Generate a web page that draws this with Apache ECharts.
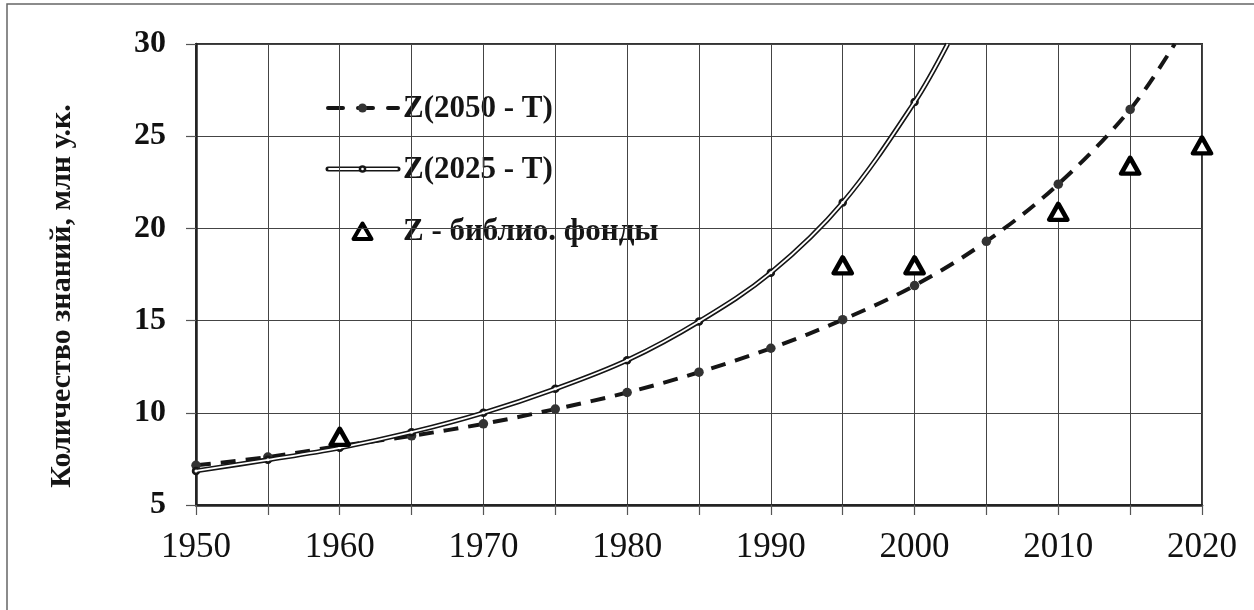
<!DOCTYPE html>
<html>
<head>
<meta charset="utf-8">
<script src="https://cdn.jsdelivr.net/npm/echarts@6/dist/echarts.min.js"></script>
<style>
html,body{margin:0;padding:0;background:#fff;}
#chart{width:1254px;height:610px;}
</style>
</head>
<body>
<div id="chart"></div>
<script>
// ---- data ----
const years = [1950, 1955, 1960, 1965, 1970, 1975, 1980, 1985, 1990, 1995, 2000, 2005, 2010, 2015];
const z2050 = [7.15, 7.6, 8.2, 8.75, 9.4, 10.2, 11.1, 12.2, 13.5, 15.05, 16.9, 19.3, 22.4, 26.45];
const z2050End = [2018.1, 30];          // where the dashed curve leaves the top of the plot
const years2025 = [1950, 1955, 1960, 1965, 1970, 1975, 1980, 1985, 1990, 1995, 2000];
const z2025 = [6.85, 7.45, 8.1, 8.95, 10.0, 11.3, 12.85, 14.95, 17.6, 21.4, 26.85];
const z2025End = [2002.3, 30];          // where the double curve leaves the top of the plot
const libYears = [1960, 1995, 2000, 2010, 2015, 2020];
const libValues = [8.7, 18.0, 18.0, 20.9, 23.4, 24.5];
const legendNames = ['Z(2050 - T)', 'Z(2025 - T)', 'Z - библио. фонды'];
const yTitle = 'Количество знаний, млн у.к.';

// ---- build series data ----
function pairs(xs, ys) { return xs.map((x, i) => [x, ys[i]]); }
const d2050 = pairs(years, z2050).concat([{ value: z2050End, symbol: 'none' }]);
const d2025 = pairs(years2025, z2025).concat([{ value: z2025End, symbol: 'none' }]);
const dLib = pairs(libYears, libValues);

const serif = '"Liberation Serif", "Times New Roman", serif';
const dark = '#151515';

const chart = echarts.init(document.getElementById('chart'), null, { renderer: 'canvas' });

const option = {
  backgroundColor: '#fff',
  animation: false,
  grid: {
    left: 196, right: 52, top: 44, bottom: 105,
    show: true, borderColor: '#333', borderWidth: 2, backgroundColor: 'transparent'
  },
  xAxis: {
    type: 'value', min: 1950, max: 2020, interval: 5,
    axisLine: { show: true, onZero: false, lineStyle: { color: '#222', width: 2.5 } },
    axisTick: { show: true, inside: false, length: 10, lineStyle: { color: '#555', width: 1.2 } },
    axisLabel: {
      margin: 25, color: '#111', fontFamily: serif, fontSize: 35,
      formatter: v => (v % 10 === 0 ? String(v) : '')
    },
    splitLine: { show: true, lineStyle: { color: '#444', width: 1 } }
  },
  yAxis: {
    type: 'value', min: 5, max: 30, interval: 5,
    axisLine: { show: true, onZero: false, lineStyle: { color: '#222', width: 2.5 } },
    axisTick: { show: true, inside: false, length: 10, lineStyle: { color: '#555', width: 1.2 } },
    axisLabel: { margin: 30, color: '#111', fontFamily: serif, fontSize: 32, fontWeight: 'bold' },
    splitLine: { show: true, lineStyle: { color: '#444', width: 1 } }
  },
  graphic: [
    // outer frame (only left and top edges fall inside the picture)
    { type: 'rect', z: -10, silent: true,
      shape: { x: 7, y: 4, width: 1400, height: 800 },
      style: { fill: 'none', stroke: '#666', lineWidth: 1.5 } },
    // y axis title
    { type: 'text', silent: true, x: 62, y: 296, rotation: Math.PI / 2,
      style: { text: yTitle, font: 'bold 30px ' + serif, fill: dark,
               textAlign: 'center', textVerticalAlign: 'middle' } },
    // legend box
    { type: 'group', z: 100, silent: true, children: [
      { type: 'rect', shape: { x: 262, y: 77, width: 463, height: 184 }, style: { fill: '#fff' } },
      // item 1: dashed line with dot
      { type: 'line', shape: { x1: 328, y1: 108, x2: 398, y2: 108 },
        style: { stroke: dark, lineWidth: 4, lineDash: [15, 15], lineCap: 'round' } },
      { type: 'circle', shape: { cx: 362.5, cy: 108, r: 4.5 }, style: { fill: '#333' } },
      { type: 'text', x: 403, y: 109,
        style: { text: legendNames[0], font: 'bold 31px ' + serif, fill: dark, textVerticalAlign: 'middle' } },
      // item 2: double line with small ring
      { type: 'line', shape: { x1: 328, y1: 169, x2: 398, y2: 169 },
        style: { stroke: dark, lineWidth: 5, lineCap: 'round' } },
      { type: 'line', shape: { x1: 329, y1: 169, x2: 397, y2: 169 },
        style: { stroke: '#fff', lineWidth: 1.8, lineCap: 'round' } },
      { type: 'circle', shape: { cx: 362.5, cy: 169, r: 3.8 }, style: { fill: dark } },
      { type: 'circle', shape: { cx: 362.5, cy: 169, r: 1.3 }, style: { fill: '#fff' } },
      { type: 'text', x: 403, y: 170,
        style: { text: legendNames[1], font: 'bold 31px ' + serif, fill: dark, textVerticalAlign: 'middle' } },
      // item 3: triangle
      { type: 'polygon', shape: { points: [[362.5, 223.5], [371.5, 239], [353.5, 239]] },
        style: { fill: '#fff', stroke: '#000', lineWidth: 4, lineJoin: 'round' } },
      { type: 'text', x: 403, y: 232,
        style: { text: legendNames[2], font: 'bold 31px ' + serif, fill: dark, textVerticalAlign: 'middle' } }
    ] }
  ],
  series: [
    {
      name: legendNames[0], type: 'line', data: d2050, smooth: 0.35, z: 3,
      symbol: 'circle', symbolSize: 9.5, showSymbol: true,
      lineStyle: { color: dark, width: 4, type: [15, 10] },
      itemStyle: { color: '#333', opacity: 1 }
    },
    {
      name: legendNames[1], type: 'line', data: d2025, smooth: 0.35, z: 4,
      symbol: 'circle', symbolSize: 8.5, showSymbol: true,
      lineStyle: { color: dark, width: 5 },
      itemStyle: { color: dark, opacity: 1 }
    },
    {
      name: legendNames[1] + ' inner', type: 'line', data: d2025, smooth: 0.35, z: 5,
      symbol: 'circle', symbolSize: 3, showSymbol: true,
      lineStyle: { color: '#fff', width: 1.8 },
      itemStyle: { color: '#fff', opacity: 1 }
    },
    {
      name: legendNames[2], type: 'scatter', data: dLib, z: 6,
      symbol: 'triangle', symbolSize: [18, 16],
      itemStyle: { color: '#fff', borderColor: '#000', borderWidth: 4.5, borderJoin: 'round', opacity: 1 }
    }
  ]
};
chart.setOption(option);
</script>
</body>
</html>
